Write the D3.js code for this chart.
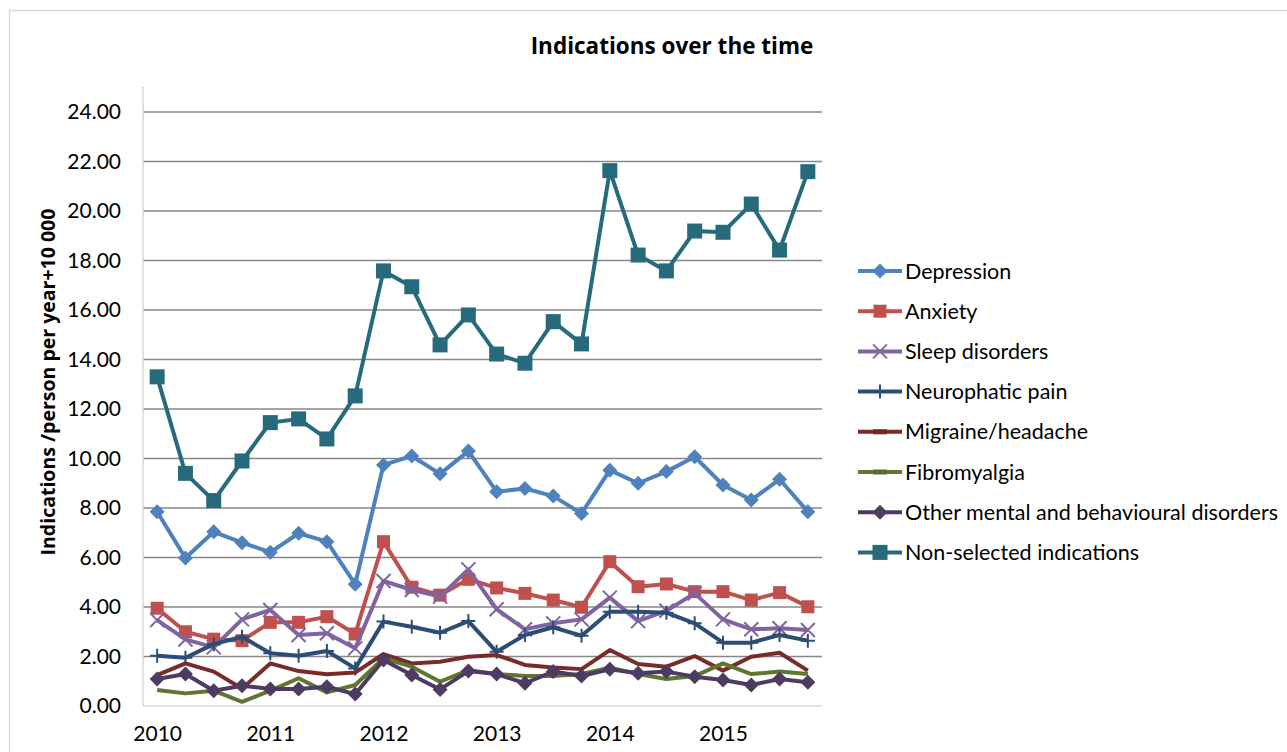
<!DOCTYPE html>
<html>
<head>
<meta charset="utf-8">
<script src="https://cdn.jsdelivr.net/npm/d3@7"></script>
<style>
  html, body { margin: 0; padding: 0; background: #fff; }
  svg { display: block; font-family: Lato, "Open Sans", sans-serif; }
</style>
</head>
<body>
<svg id="chart"></svg>
<script>
// quarters 2010 Q1 .. 2015 Q4
const quarters = [];
[2010, 2011, 2012, 2013, 2014, 2015].forEach(y => [1, 2, 3, 4].forEach(q => quarters.push(y + " Q" + q)));

const yTicks = [0, 2, 4, 6, 8, 10, 12, 14, 16, 18, 20, 22, 24];

const depression = [7.85, 5.98, 7.04, 6.6, 6.21, 6.98, 6.64, 4.92, 9.74, 10.1, 9.38, 10.3, 8.66, 8.79, 8.48, 7.78, 9.53, 9.0, 9.47, 10.07, 8.93, 8.32, 9.16, 7.85];
const anxiety = [3.95, 3.0, 2.7, 2.64, 3.38, 3.38, 3.61, 2.91, 6.64, 4.8, 4.48, 5.12, 4.77, 4.55, 4.28, 3.99, 5.83, 4.82, 4.93, 4.62, 4.62, 4.28, 4.58, 4.01];
const sleep = [3.47, 2.69, 2.37, 3.5, 3.88, 2.87, 2.94, 2.33, 5.05, 4.69, 4.42, 5.52, 3.91, 3.1, 3.34, 3.5, 4.38, 3.43, 3.85, 4.55, 3.5, 3.1, 3.14, 3.07];
const neuropathic = [2.03, 1.95, 2.5, 2.8, 2.13, 2.03, 2.22, 1.52, 3.41, 3.2, 2.96, 3.43, 2.19, 2.87, 3.18, 2.84, 3.81, 3.81, 3.77, 3.34, 2.56, 2.56, 2.87, 2.64];
const migraine = [1.25, 1.72, 1.39, 0.71, 1.72, 1.41, 1.28, 1.35, 2.1, 1.72, 1.79, 1.99, 2.06, 1.66, 1.56, 1.49, 2.26, 1.7, 1.59, 2.02, 1.43, 1.99, 2.15, 1.43];
const fibromyalgia = [0.65, 0.51, 0.62, 0.17, 0.62, 1.12, 0.55, 0.85, 1.93, 1.59, 0.98, 1.45, 1.29, 1.21, 1.21, 1.29, 1.55, 1.29, 1.09, 1.21, 1.72, 1.29, 1.39, 1.29];
const otherMental = [1.09, 1.29, 0.62, 0.82, 0.69, 0.69, 0.78, 0.48, 1.86, 1.25, 0.67, 1.41, 1.29, 0.92, 1.39, 1.21, 1.48, 1.32, 1.39, 1.18, 1.05, 0.85, 1.09, 0.96];
const nonSelected = [13.3, 9.4, 8.3, 9.9, 11.45, 11.6, 10.79, 12.53, 17.58, 16.94, 14.59, 15.8, 14.22, 13.85, 15.53, 14.63, 21.63, 18.22, 17.58, 19.19, 19.14, 20.28, 18.42, 21.59];

const series = [
  { name: "Depression", values: depression, color: "#4F81BD", marker: "diamond" },
  { name: "Anxiety", values: anxiety, color: "#C0504D", marker: "square" },
  { name: "Sleep disorders", values: sleep, color: "#8064A2", marker: "x" },
  { name: "Neurophatic pain", values: neuropathic, color: "#2C4D75", marker: "plus" },
  { name: "Migraine/headache", values: migraine, color: "#772C2A", marker: "dash" },
  { name: "Fibromyalgia", values: fibromyalgia, color: "#5F7530", marker: "dash" },
  { name: "Other mental and behavioural disorders", values: otherMental, color: "#4D3B62", marker: "diamond" },
  { name: "Non-selected indications", values: nonSelected, color: "#276A7C", marker: "bigsquare" }
];

const width = 1287, height = 752;
const plot = { left: 143, right: 822, top: 112, bottom: 706 };

const svg = d3.select("#chart").attr("width", width).attr("height", height);

// outer chart frame
svg.append("rect")
  .attr("x", 9.5).attr("y", 10.5)
  .attr("width", 1300).attr("height", 800)
  .attr("fill", "#fff").attr("stroke", "#d9d9d9").attr("stroke-width", 1.5);

const x = d3.scalePoint().domain(quarters).range([plot.left, plot.right]).padding(0.5);
const y = d3.scaleLinear().domain([0, 24]).range([plot.bottom, plot.top]);

// gridlines
svg.append("g")
  .selectAll("line")
  .data(yTicks.filter(d => d > 0))
  .enter().append("line")
  .attr("x1", plot.left).attr("x2", plot.right)
  .attr("y1", d => y(d)).attr("y2", d => y(d))
  .attr("stroke", "#878787").attr("stroke-width", 1.3);

// y axis
const yAxis = svg.append("g")
  .attr("transform", `translate(${plot.left},0)`)
  .call(d3.axisLeft(y).tickValues(yTicks).tickFormat(d3.format(".2f")).tickSize(0).tickPadding(22));
yAxis.select(".domain").attr("stroke", "#d9d9d9").attr("stroke-width", 1.5).attr("d", `M0,${plot.top - 25}V${plot.bottom}`);
yAxis.selectAll("text").attr("font-size", 21).attr("fill", "#000").attr("font-family", "Lato, sans-serif");

// x axis
const xAxis = svg.append("g")
  .attr("transform", `translate(0,${plot.bottom})`)
  .call(d3.axisBottom(x).tickSize(0).tickPadding(20).tickFormat(d => d.endsWith("Q1") ? d.slice(0, 4) : ""));
xAxis.select(".domain").attr("stroke", "#d9d9d9").attr("stroke-width", 1.5).attr("d", `M${plot.left},0H${plot.right}`);
xAxis.selectAll("text").attr("font-size", 21).attr("fill", "#000").attr("font-family", "Lato, sans-serif");

// title
svg.append("text")
  .attr("x", 672).attr("y", 54)
  .attr("text-anchor", "middle")
  .attr("font-family", "'Open Sans', sans-serif")
  .attr("font-size", 22.5).attr("font-weight", "bold")
  .text("Indications over the time");

// y axis title
svg.append("text")
  .attr("transform", "translate(55,382) rotate(-90)")
  .attr("text-anchor", "middle")
  .attr("font-family", "'Open Sans', sans-serif")
  .attr("font-size", 19.5).attr("font-weight", "bold")
  .text("Indications /person per year+10 000");

function drawMarker(g, type, color) {
  if (type === "diamond") {
    g.append("path").attr("d", "M0,-7.5L7.5,0L0,7.5L-7.5,0Z").attr("fill", color);
  } else if (type === "square" || type === "bigsquare") {
    const s = type === "bigsquare" ? 15 : 13;
    g.append("rect").attr("x", -s / 2).attr("y", -s / 2).attr("width", s).attr("height", s).attr("fill", color);
  } else if (type === "x") {
    const s = 7;
    g.append("path").attr("d", `M${-s},${-s}L${s},${s}M${-s},${s}L${s},${-s}`)
      .attr("stroke", color).attr("stroke-width", 2).attr("fill", "none");
  } else if (type === "plus") {
    const s = 7;
    g.append("path").attr("d", `M${-s},0L${s},0M0,${-s}L0,${s}`)
      .attr("stroke", color).attr("stroke-width", 2).attr("fill", "none");
  } else if (type === "dash") {
    g.append("rect").attr("x", -7).attr("y", -2.5).attr("width", 14).attr("height", 5).attr("fill", d3.color(color).darker(0.25));
  }
}

const line = d3.line().x((d, i) => x(quarters[i])).y(d => y(d));

const seriesG = svg.append("g");
series.forEach(s => {
  const g = seriesG.append("g");
  g.append("path")
    .datum(s.values)
    .attr("d", line)
    .attr("fill", "none")
    .attr("stroke", s.color)
    .attr("stroke-width", 4)
    .attr("stroke-linejoin", "round");
  if (s.marker !== "dash") {
    s.values.forEach((v, i) => {
      const m = g.append("g").attr("transform", `translate(${x(quarters[i])},${y(v)})`);
      drawMarker(m, s.marker, s.color);
    });
  }
});

// legend
const legend = svg.append("g").attr("transform", "translate(858,271)");
series.forEach((s, i) => {
  const row = legend.append("g").attr("transform", `translate(0,${i * 40.2})`);
  row.append("line").attr("x1", 0).attr("x2", 44).attr("stroke", s.color).attr("stroke-width", 4);
  const m = row.append("g").attr("transform", "translate(22,0)");
  drawMarker(m, s.marker, s.color);
  row.append("text").attr("x", 47).attr("y", 0).attr("dy", "0.35em")
    .attr("font-size", 21.5).text(s.name);
});
</script>
</body>
</html>
